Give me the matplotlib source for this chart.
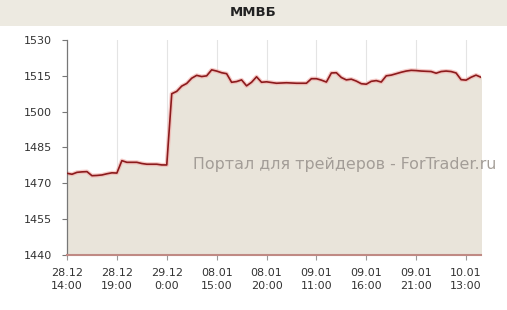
import numpy as np
import matplotlib
matplotlib.use("Agg")
from matplotlib import pyplot as plt

# MICEX index, half-hour steps (trading time only)
values = [1474.2, 1473.8, 1474.6, 1474.8, 1474.9, 1473.2, 1473.3, 1473.5, 1474.0, 1474.4,
          1474.3, 1479.5, 1478.8, 1478.8, 1478.8, 1478.3, 1478.0, 1478.0, 1478.0, 1477.7,
          1477.7, 1507.5, 1508.5, 1510.7, 1511.8, 1514.0, 1515.2, 1514.7, 1515.0, 1517.5,
          1517.0, 1516.3, 1515.9, 1512.3, 1512.6, 1513.3, 1510.8, 1512.3, 1514.6, 1512.3,
          1512.5, 1512.2, 1511.9, 1512.0, 1512.1, 1512.0, 1511.9, 1511.9, 1511.9, 1513.8,
          1513.8, 1513.2, 1512.4, 1516.2, 1516.3, 1514.3, 1513.3, 1513.6, 1512.8, 1511.7,
          1511.5, 1512.7, 1513.0, 1512.4, 1515.0, 1515.3, 1515.9, 1516.5, 1517.0, 1517.3,
          1517.2, 1517.0, 1516.9, 1516.8, 1516.1, 1516.8, 1517.0, 1516.8, 1516.2, 1513.4,
          1513.2, 1514.4, 1515.3, 1514.4]
hours = np.arange(len(values)) * 0.5

tick_pos = [0, 5, 10, 15, 20, 25, 30, 35, 40]
tick_labels = ["28.12\n14:00", "28.12\n19:00", "29.12\n0:00", "08.01\n15:00", "08.01\n20:00",
               "09.01\n11:00", "09.01\n16:00", "09.01\n21:00", "10.01\n13:00"]
y_ticks = [1440, 1455, 1470, 1485, 1500, 1515, 1530]

W, H = 507, 310
fig = plt.figure(figsize=(W / 100, H / 100), dpi=100)
fig.patch.set_facecolor("white")

# title band
band = fig.add_axes([0, 1 - 26 / H, 1, 26 / H])
band.set_facecolor("#EDEAE1")
band.set_xticks([])
band.set_yticks([])
for s in band.spines.values():
    s.set_visible(False)
band.text(0.5, 0.5, "ММВБ", ha="center", va="center", fontsize=9.5,
          fontweight="bold", color="#222222")

ax = fig.add_axes([67 / W, 55 / H, (481 - 67) / W, (255 - 40) / H])
ax.set_xlim(0, hours[-1])
ax.set_ylim(1440, 1530)

ax.fill_between(hours, values, 1440, color="#E9E4DA", zorder=1)
ax.plot(hours, values, color="#F2B4B0", lw=3.0, alpha=0.7, zorder=2)
ax.plot(hours, values, color="#8C1A1C", lw=1.2, zorder=3)

for t in tick_pos[1:]:
    ax.axvline(t, color="#E4E4E4", lw=0.8, zorder=0.5)

ax.set_xticks(tick_pos)
ax.set_xticklabels(tick_labels, fontsize=8, color="#333333", linespacing=1.35)
ax.set_yticks(y_ticks)
ax.set_yticklabels([str(v) for v in y_ticks], fontsize=8, color="#333333")
ax.tick_params(axis="y", length=3.6, width=0.8, color="#777777", pad=7.5)
ax.tick_params(axis="x", length=3.5, width=0.8, color="#999999", pad=6)

for name in ["top", "right"]:
    ax.spines[name].set_visible(False)
ax.spines["left"].set_color("#777777")
ax.spines["left"].set_linewidth(0.9)
ax.spines["bottom"].set_color("#C08A84")
ax.spines["bottom"].set_linewidth(1.5)
ax.spines["bottom"].set_zorder(4)

fig.text(345 / W, 1 - 165 / H, "Портал для трейдеров - ForTrader.ru", ha="center",
         va="center", fontsize=11.4, color="#A39D97")

fig.savefig("out.png", dpi=100)
